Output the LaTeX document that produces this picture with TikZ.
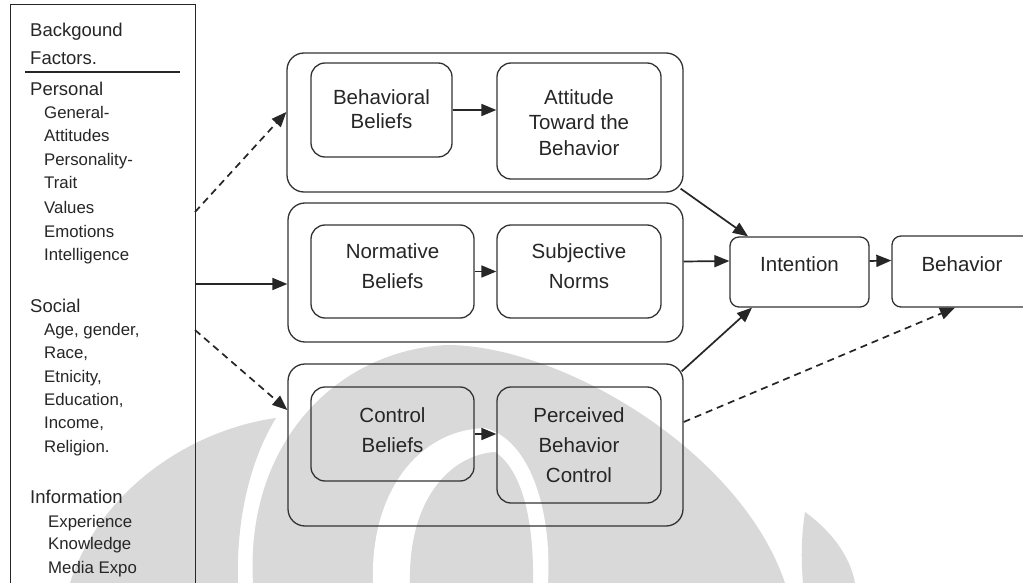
\documentclass[tikz,border=0pt]{standalone}
\usepackage{fontspec}
\setmainfont{Liberation Sans}
\usetikzlibrary{arrows.meta}
\begin{document}
\begin{tikzpicture}[x=1pt,y=-1pt,
  wm/.style={fill=black!15,draw=none},
  wmw/.style={fill=white,draw=none},
  outer/.style={draw=black!80,line width=1.3pt,rounded corners=17pt,minimum width=#1,inner sep=0pt},
  inbox/.style={draw=black!80,line width=1.3pt,rounded corners=14pt,inner sep=0pt},
  smallbox/.style={draw=black!80,line width=1.3pt,rounded corners=9pt,inner sep=0pt},
  bt/.style={font=\fontsize{20.5}{24}\selectfont,text=black!85,anchor=base,inner sep=0pt},
  hd/.style={font=\fontsize{18.5}{22}\selectfont,text=black!85,anchor=base west,inner sep=0pt},
  it/.style={font=\fontsize{16.8}{20}\selectfont,text=black!85,anchor=base west,inner sep=0pt},
  arr/.style={draw=black!85,line width=1.7pt,-{Triangle[length=15pt,width=12pt]}},
  darr/.style={arr,dash pattern=on 7pt off 5pt}]
\clip (0,0) rectangle (1023,583);
\fill[white] (0,0) rectangle (1023,583);
% watermark
\fill[wm] (70,583) .. controls (100,490) and (190,430) .. (276,418) .. controls (250,460) and (236,520) .. (238,583) -- cycle;
\fill[wm] (253,583) .. controls (245,440) and (340,350) .. (447,345) .. controls (560,345) and (740,450) .. (785,583) -- cycle;
\fill[wmw] (373,583) .. controls (370,490) and (420,430) .. (485,428) .. controls (530,440) and (552,510) .. (548,583) -- cycle;
\fill[wm] (410,583) .. controls (408,500) and (450,455) .. (495,452) .. controls (522,470) and (534,520) .. (533,583) -- cycle;
\fill[wm] (803,583) .. controls (800,550) and (803,525) .. (805,512) .. controls (830,530) and (850,555) .. (855,583) -- cycle;
% left box
\node[draw=black!85,line width=1pt,minimum width=185pt,minimum height=595pt,inner sep=0pt] (lb) at (102.5,302.5) {};
\draw[black!85,line width=1.2pt] (25,72) -- (180,72);
\node[hd] (h1) at (30,37) {Backgound};
\node[hd] (h2) at (30,65) {Factors.};
\node[hd] (h3) at (30,96) {Personal};
\node[it] (p1) at (44,119) {General-};
\node[it] (p2) at (44,142) {Attitudes};
\node[it] (p3) at (44,166) {Personality-};
\node[it] (p4) at (44,189) {Trait};
\node[it] (p5) at (44,213) {Values};
\node[it] (p6) at (44,237) {Emotions};
\node[it] (p7) at (44,260) {Intelligence};
\node[hd] (h4) at (30,312) {Social};
\node[it] (s1t) at (44,335) {Age, gender,};
\node[it] (s2t) at (44,358) {Race,};
\node[it] (s3t) at (44,382) {Etnicity,};
\node[it] (s4t) at (44,405) {Education,};
\node[it] (s5t) at (44,428) {Income,};
\node[it] (s6t) at (44,452) {Religion.};
\node[hd] (h5) at (30,503) {Information};
\node[it] (i1) at (48,527) {Experience};
\node[it] (i2) at (48,549) {Knowledge};
\node[it] (i3) at (48,573) {Media Expo};
% outer boxes
\node[outer=396pt,minimum height=139pt] (ob1) at (485,122.5) {};
\node[outer=395pt,minimum height=139pt] (ob2) at (485.5,272.5) {};
\node[outer=395pt,minimum height=162pt] (ob3) at (485.5,445) {};
% inner boxes
\node[inbox,minimum width=141pt,minimum height=94pt] (bb) at (381.5,110) {};
\node[inbox,minimum width=164pt,minimum height=116pt] (at) at (579,121) {};
\node[inbox,minimum width=163pt,minimum height=93pt] (nb) at (392.5,271.5) {};
\node[inbox,minimum width=164pt,minimum height=93pt] (sn) at (579,271.5) {};
\node[inbox,minimum width=163pt,minimum height=94pt] (cb) at (392.5,434) {};
\node[inbox,minimum width=164pt,minimum height=116pt] (pbc) at (579,445) {};
\node[smallbox,minimum width=139pt,minimum height=70pt] (int) at (799.5,272) {};
\node[smallbox,minimum width=140pt,minimum height=71pt] (beh) at (962,271.5) {};
% texts
\node[bt] (tbb1) at (381.5,105) {Behavioral};
\node[bt] (tbb2) at (381.5,129) {Beliefs};
\node[bt] (tat1) at (579,105) {Attitude};
\node[bt] (tat2) at (579,130) {Toward the};
\node[bt] (tat3) at (579,156) {Behavior};
\node[bt] (tnb1) at (392.5,258) {Normative};
\node[bt] (tnb2) at (392.5,288) {Beliefs};
\node[bt] (tsn1) at (579,258) {Subjective};
\node[bt] (tsn2) at (579,288) {Norms};
\node[bt] (tcb1) at (392.5,422) {Control};
\node[bt] (tcb2) at (392.5,452) {Beliefs};
\node[bt] (tp1) at (579,422) {Perceived};
\node[bt] (tp2) at (579,452) {Behavior};
\node[bt] (tp3) at (579,482) {Control};
\node[bt] (tint) at (799.5,271) {Intention};
\node[bt] (tbeh) at (962,271) {Behavior};
% connectors
\coordinate (c1) at (195,212);
\coordinate (c2) at (195,284);
\coordinate (c3) at (195,330);
\draw[darr] (c1) -- ([yshift=10.5pt]ob1.west);
\draw[arr] (c2) -- (c2 -| ob2.west);
\draw[darr] (c3) -- ([yshift=35pt]ob3.west);
\draw[arr] (bb.east) -- (bb.east -| at.west);
\draw[arr] (nb.east) -- (nb.east -| sn.west);
\draw[arr] (cb.east) -- (cb.east -| pbc.west);
\draw[arr] ([xshift=-3pt,yshift=4pt]ob1.south east) -- ([xshift=-51.5pt]int.north);
\draw[arr] ([yshift=11pt]ob2.east) -- ([yshift=11pt]int.west);
\draw[arr] ([xshift=-2pt,yshift=-8pt]ob3.north east) -- ([xshift=-47.5pt]int.south);
\draw[arr] ([yshift=11pt]int.east) -- ([yshift=11pt]beh.west);
\draw[darr] ([yshift=23pt]ob3.east) -- ([xshift=-7pt]beh.south);
\end{tikzpicture}
\end{document}
